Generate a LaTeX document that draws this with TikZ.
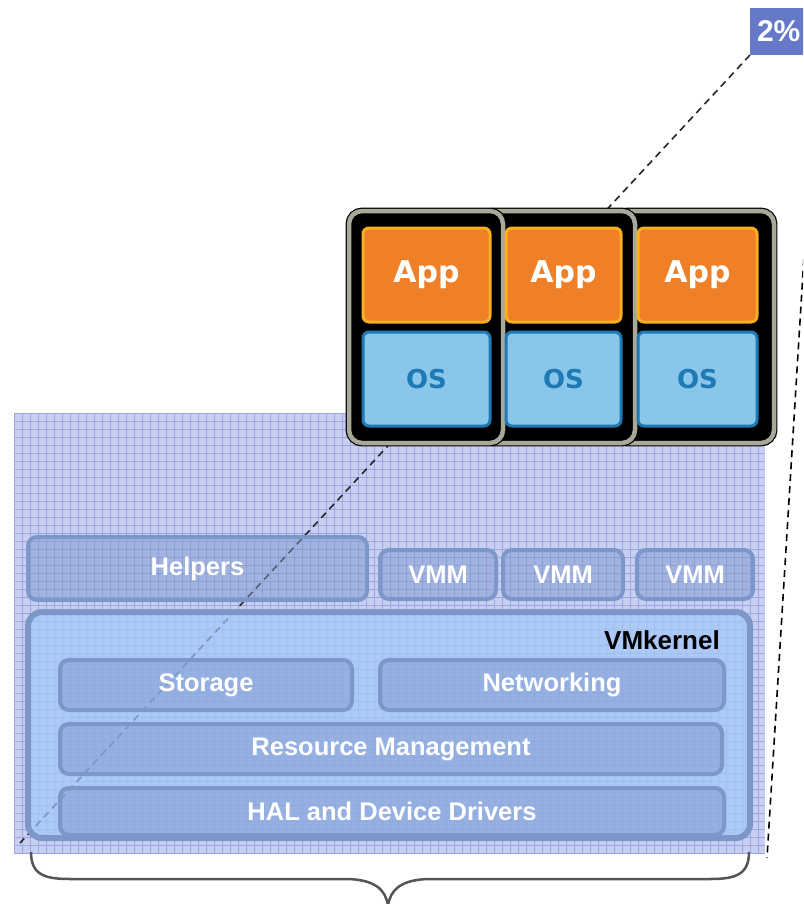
\documentclass[tikz,border=0pt]{standalone}
\usepackage{xcolor}
\usepackage{fontspec}
\setmainfont{Liberation Sans}
\newfontfamily\appfont{DejaVu Sans}
\usepackage{tikz}
\usetikzlibrary{positioning}

\definecolor{gridbg}{HTML}{C8CFF2}
\definecolor{gridline}{HTML}{9AA8E2}
\definecolor{layerline}{HTML}{7D97C9}
\definecolor{layerfill}{HTML}{7E98CE}
\definecolor{kernelfill}{HTML}{A2C8F8}
\definecolor{apporange}{HTML}{F08028}
\definecolor{appedge}{HTML}{F8B020}
\definecolor{osblue}{HTML}{8AC6EA}
\definecolor{osedge}{HTML}{1E7AB4}
\definecolor{vmgrey}{HTML}{A9A99A}
\definecolor{pctblue}{HTML}{6679C8}
\definecolor{bracegrey}{HTML}{555555}

\begin{document}
\begin{tikzpicture}[x=1pt, y=-1pt,
        layerbox/.style={draw=layerline, line width=4pt, fill=layerfill, fill opacity=0.5, text opacity=1,
            rounded corners=9pt, text=white, font=\fontsize{25.5}{30}\selectfont\bfseries,
            anchor=north west, inner sep=0pt, outer sep=0pt},
        kernelbox/.style={draw=layerline, line width=6pt, fill=kernelfill, fill opacity=0.7,
            rounded corners=14pt, anchor=north west, inner sep=0pt, outer sep=0pt},
        vmpanel/.style={fill=black, draw=black, line width=1.2pt, double=vmgrey, double distance=4.5pt,
            rounded corners=13pt, anchor=north west, minimum height=232, inner sep=0pt, outer sep=0pt},
        appbox/.style={fill=apporange, draw=appedge, line width=3pt, rounded corners=6pt, text=white,
            font=\appfont\bfseries\fontsize{30}{36}\selectfont, minimum height=94, inner sep=0pt,
            outer sep=0pt, anchor=north west},
        osbox/.style={fill=osblue, draw=osedge, line width=3pt, rounded corners=6pt, text=osedge,
            font=\appfont\bfseries\fontsize{26}{32}\selectfont, minimum height=94, inner sep=0pt,
            outer sep=0pt, anchor=north west},
        fanline/.style={dashed, dash pattern=on 7pt off 5pt, line width=1.6pt}]
    \useasboundingbox (0,0) rectangle (803,904);
    \clip (0,0) rectangle (803,904);

    % grid background of the host
    \fill[gridbg] (14,413) rectangle (765,854);
    \foreach \gx in {14,22,...,765} \draw[gridline, line width=0.8pt] (\gx,413) -- (\gx,854);
    \foreach \gy in {413,421,...,854} \draw[gridline, line width=0.8pt] (14,\gy) -- (765,\gy);

    % share label and fan lines
    \node[fill=pctblue, text=white, font=\fontsize{30}{36}\selectfont\bfseries, anchor=north west,
        minimum height=47, inner xsep=7pt, inner ysep=0pt, outer sep=0pt] (pct) at (750,8) {2\%};
    \coordinate (fanleft) at (20,843);
    \coordinate (fanright) at (767,858);
    \draw[fanline, black!85] (pct.south west) -- (fanleft);

    % layers
    \node[layerbox, minimum width=339, minimum height=63] (helpers) at (28,537) {Helpers};
    \node[layerbox, minimum width=116, minimum height=49] (vmm1) at (380,550) {VMM};
    \node[layerbox, minimum width=120, minimum height=49] (vmm2) at (503,550) {VMM};
    \node[layerbox, minimum width=116, minimum height=49] (vmm3) at (637,550) {VMM};

    \node[kernelbox, minimum width=722, minimum height=226] (vmkernel) at (28,612) {};
    \node[anchor=north east, inner sep=0pt, font=\fontsize{26}{30}\selectfont\bfseries]
        (kernellabel) at ([shift={(-30,18)}]vmkernel.north east) {VMkernel};
    \node[layerbox, minimum width=292, minimum height=50] (storage) at (60,660) {Storage};
    \node[layerbox, minimum width=344, minimum height=50] (networking) at (380,660) {Networking};
    \node[layerbox, minimum width=662, minimum height=50] (resmgmt) at (60,724) {Resource Management};
    \node[layerbox, minimum width=664, minimum height=47] (hal) at (60,788) {HAL and Device Drivers};

    % virtual machines
    \node[vmpanel, minimum width=160] (panel3) at (614,211) {};
    \node[vmpanel, minimum width=155] (panel2) at (480,211) {};
    \node[vmpanel, minimum width=154] (panel1) at (349,211) {};
    \node[appbox, minimum width=127] (app1) at (363,228) {App};
    \node[appbox, minimum width=115] (app2) at (506,228) {App};
    \node[appbox, minimum width=119] (app3) at (638,228) {App};
    \node[osbox, minimum width=127] (os1) at (363,332) {OS};
    \node[osbox, minimum width=115] (os2) at (506,332) {OS};
    \node[osbox, minimum width=119] (os3) at (638,332) {OS};

    \draw[fanline, black] ([xshift=9pt]pct.south east) -- (fanright);

    % brace under the host
    \coordinate (braceleft) at (31,852);
    \coordinate (braceright) at (749,852);
    \coordinate (bracetip) at (388,906);
    \draw[bracegrey, line width=2.5pt]
        (braceleft) .. controls (31,875) and (45,879) .. (70,879) -- (345,879)
        .. controls (375,879) and (386,890) .. (bracetip)
        .. controls (390,890) and (401,879) .. (431,879) -- (710,879)
        .. controls (735,879) and (749,875) .. (braceright);
\end{tikzpicture}
\end{document}
